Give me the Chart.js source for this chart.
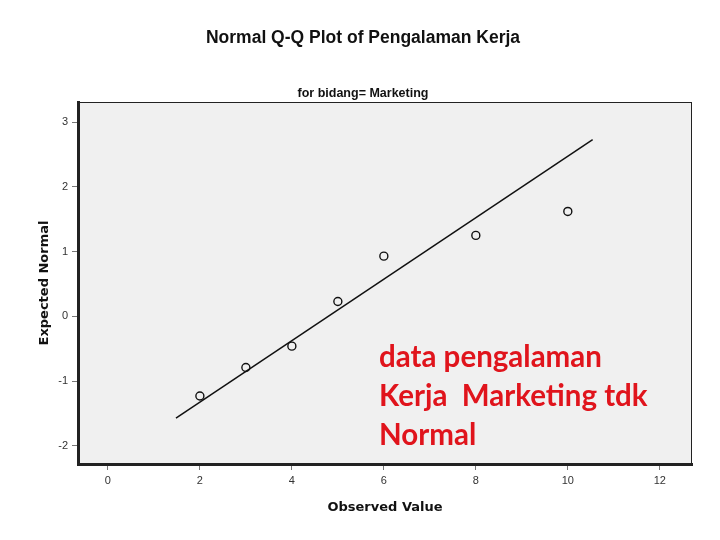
<!DOCTYPE html>
<html>
<head>
<meta charset="utf-8">
<script src="https://cdn.jsdelivr.net/npm/chart.js@4"></script>
<style>
  html, body { margin: 0; padding: 0; background: #fff; }
  #wrap { width: 720px; height: 540px; }
</style>
</head>
<body>
<div id="wrap"><canvas id="qq" width="720" height="540"></canvas></div>
<script>
// observed values vs expected normal
const observed = [2, 3, 4, 5, 6, 8, 10];
const expectedNormal = [-1.23, -0.79, -0.46, 0.23, 0.93, 1.25, 1.62];
// reference line end points
const lineX = [1.48, 10.54];
const lineY = [-1.57, 2.73];
const xTicks = [0, 2, 4, 6, 8, 10, 12];
const yTicks = [-2, -1, 0, 1, 2, 3];
const noteLines = ["data pengalaman", "Kerja  Marketing tdk", "Normal"];

const FONT = "'Liberation Sans', Arial, sans-serif";
const AXFONT = "'DejaVu Sans', Verdana, sans-serif";

// plot background + frame + red note
const plotDecor = {
    id: 'plotDecor',
    beforeDraw(chart) {
        const { ctx, chartArea: a } = chart;
        ctx.save();
        ctx.fillStyle = '#f0f0f0';
        ctx.fillRect(a.left, a.top, a.right - a.left, a.bottom - a.top);
        ctx.restore();
    },
    afterDraw(chart) {
        const { ctx, chartArea: a } = chart;
        ctx.save();
        ctx.strokeStyle = '#222';
        ctx.lineWidth = 1;
        ctx.strokeRect(a.left + 0.5, a.top + 0.5, a.right - a.left - 1, a.bottom - a.top - 1);
        ctx.fillStyle = '#e0141c';
        ctx.font = "bold 29.5px Lato, 'Open Sans', sans-serif";
        ctx.textBaseline = 'middle';
        noteLines.forEach((t, i) => ctx.fillText(t, 379, 357 + i * 39));
        ctx.restore();
    }
};

new Chart(document.getElementById('qq'), {
    data: {
        datasets: [
            {
                type: 'line',
                data: lineX.map((x, i) => ({ x: x, y: lineY[i] })),
                borderColor: '#111',
                borderWidth: 1.5,
                pointRadius: 0,
                order: 2
            },
            {
                type: 'scatter',
                data: observed.map((x, i) => ({ x: x, y: expectedNormal[i] })),
                borderColor: '#111',
                backgroundColor: 'rgba(0,0,0,0)',
                borderWidth: 1.4,
                pointRadius: 4,
                order: 1
            }
        ]
    },
    options: {
        responsive: false,
        animation: false,
        layout: { padding: { left: 34, right: 28, top: 0, bottom: 0 } },
        plugins: {
            legend: { display: false },
            tooltip: { enabled: false },
            title: {
                display: true,
                text: 'Normal Q-Q Plot of Pengalaman Kerja',
                color: '#111',
                font: { family: FONT, size: 17.5, weight: 'bold' },
                padding: { top: 27.5, bottom: 19 }
            },
            subtitle: {
                display: true,
                text: 'for bidang= Marketing',
                color: '#111',
                font: { family: FONT, size: 12.5, weight: 'bold' },
                padding: { top: 19, bottom: 0.5 }
            }
        },
        scales: {
            x: {
                type: 'linear',
                min: -0.65,
                max: 12.7,
                afterBuildTicks: s => { s.ticks = xTicks.map(v => ({ value: v })); },
                afterFit: s => { s.height = 76; },
                grid: { drawOnChartArea: false, drawTicks: true, tickLength: 6, color: '#777' },
                border: { display: true, color: '#222', width: 3 },
                ticks: { color: '#333', font: { family: FONT, size: 11 }, padding: 4 },
                title: {
                    display: true,
                    text: 'Observed Value',
                    color: '#111',
                    font: { family: AXFONT, size: 13, weight: 'bold' },
                    padding: { top: 4, bottom: 25 }
                }
            },
            y: {
                type: 'linear',
                min: -2.28,
                max: 3.31,
                afterBuildTicks: s => { s.ticks = yTicks.map(v => ({ value: v })); },
                afterFit: s => { s.width = 44; },
                grid: { drawOnChartArea: false, drawTicks: true, tickLength: 6, color: '#777' },
                border: { display: true, color: '#222', width: 3 },
                ticks: { color: '#333', font: { family: FONT, size: 11 }, padding: 4 },
                title: {
                    display: true,
                    text: 'Expected Normal',
                    color: '#111',
                    font: { family: AXFONT, size: 13, weight: 'bold' },
                    padding: { top: 3, bottom: 0 }
                }
            }
        }
    },
    plugins: [plotDecor]
});
</script>
</body>
</html>
